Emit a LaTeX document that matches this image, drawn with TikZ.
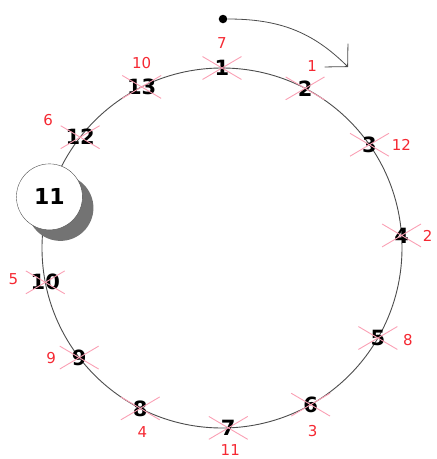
\documentclass[tikz,border=0pt]{standalone}
\usepackage{fontspec}
\setmainfont{DejaVu Sans}
\usepackage{xcolor}
\usepackage{tikz}
\usetikzlibrary{
    positioning,
    arrows.meta,
    shapes.misc,
    shadows,
}
\definecolor{crossPink}{RGB}{250,160,180}
\definecolor{orderRed}{RGB}{245,40,50}
\tikzset{
    % Node styles
    person/.style={cross out, draw=crossPink, line width=0.9pt, minimum width=38pt,
                   minimum height=22pt, inner sep=0pt, font=\fontsize{21}{21}\selectfont\bfseries},
    order/.style={on grid, text=orderRed, inner sep=1pt, font=\fontsize{15}{15}\selectfont},
    survivor/.style={circle, draw=black!70, fill=white, minimum size=66pt, inner sep=0pt,
                     font=\fontsize{22}{22}\selectfont\bfseries,
                     drop shadow={shadow xshift=11pt, shadow yshift=-11pt, fill=black!55, opacity=1}},
}

\begin{document}
\begin{tikzpicture}[
    x=1pt, y=1pt,
    ring/.style={draw=black!70, line width=0.9pt},
    dot/.style={circle, fill=black, minimum size=8.5pt, inner sep=0pt},
    turn/.style={-{Straight Barb[length=16pt, width=33pt]}, line width=0.8pt, black!70},
]
    \useasboundingbox (-222,-211) rectangle (215,248);

    % Ring
    \draw[ring] (0,0) circle (180);

    % People
    \node[person] (p1) at (90:180) {1};
    \node[person] (p2) at (62.5:180) {2};
    \node[person] (p3) at (35:180) {3};
    \node[person] (p4) at (4:180) {4};
    \node[person] (p5) at (-30:180) {5};
    \node[person] (p6) at (-60.5:180) {6};
    \node[person] (p7) at (-88:180) {7};
    \node[person] (p8) at (-117:180) {8};
    \node[person] (p9) at (-142.5:180) {9};
    \node[person] (p10) at (-169:180) {10};
    \node[person] (p12) at (142:180) {12};
    \node[person] (p13) at (116.5:180) {13};
    \node[survivor] (p11) at (163.5:180) {11};

    % Order of removal
    \node[order, above=25pt of p1] (o1) {7};
    \node[order, above right=22pt and 7pt of p2] (o2) {1};
    \node[order, right=32pt of p3] (o3) {12};
    \node[order, right=26pt of p4] (o4) {2};
    \node[order, below right=2pt and 30pt of p5] (o5) {8};
    \node[order, below right=26pt and 2pt of p6] (o6) {3};
    \node[order, below right=22pt and 2pt of p7] (o7) {11};
    \node[order, below right=24pt and 2pt of p8] (o8) {4};
    \node[order, left=28pt of p9] (o9) {9};
    \node[order, above left=3pt and 32pt of p10] (o10) {5};
    \node[order, above left=17pt and 32pt of p12] (o12) {6};
    \node[order, above=24pt of p13] (o13) {10};

    % Direction
    \node[dot] (start) at (1,229) {};
    \coordinate (stop) at (126,181);
    \draw[turn] (start) to[out=0, in=135] (stop);
\end{tikzpicture}
\end{document}
